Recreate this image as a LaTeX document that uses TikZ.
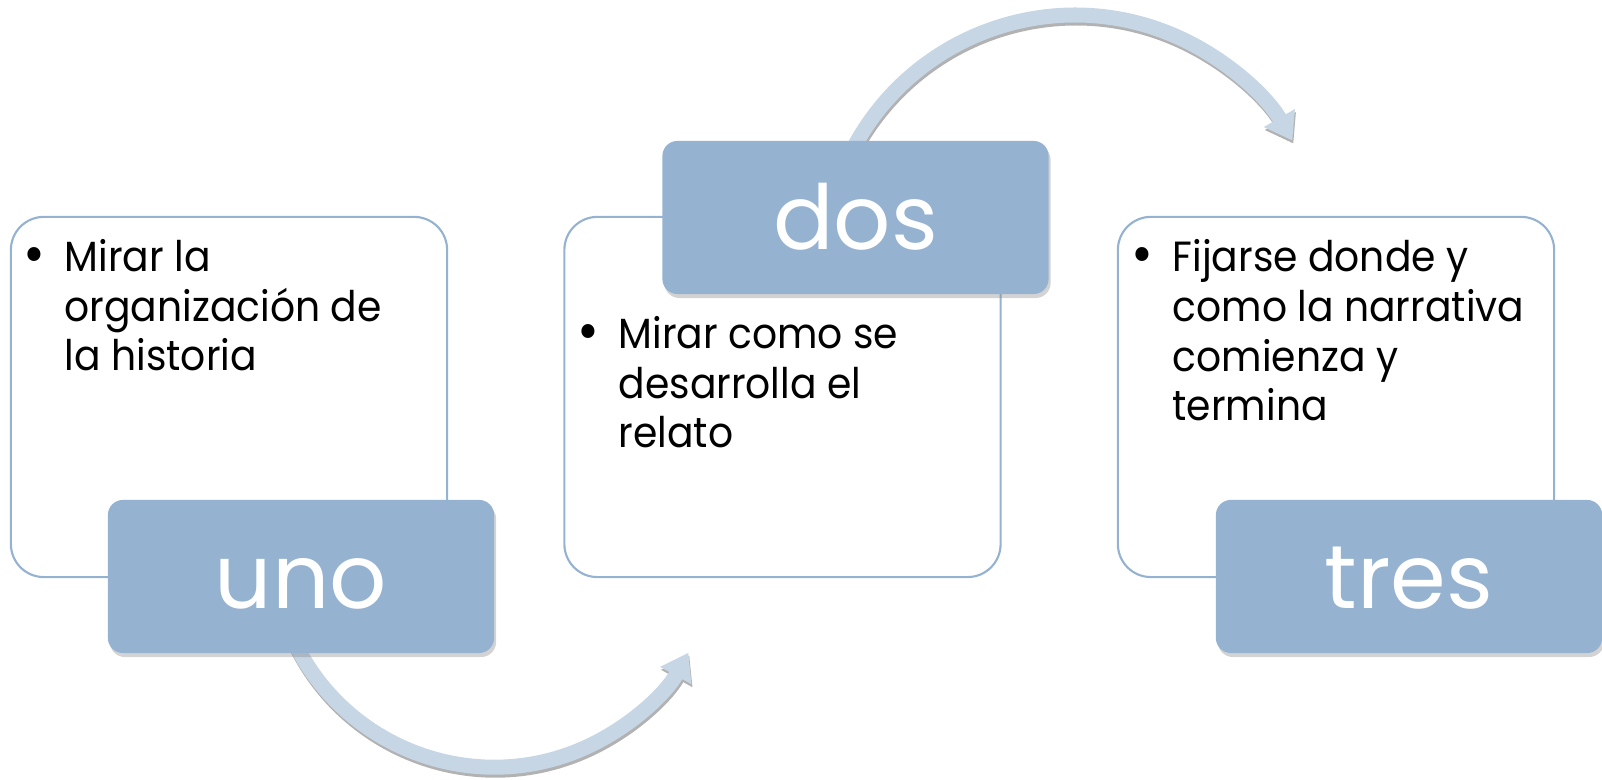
\documentclass[tikz,border=0pt]{standalone}
\usepackage{fontspec}
\setmainfont{Poppins}
\newfontfamily\bodyfont{Poppins}[FakeStretch=0.93]
\usetikzlibrary{arrows.meta,shadows,calc}
\definecolor{tabblue}{HTML}{95B3D1}
\definecolor{arrowblue}{HTML}{C6D6E5}
\definecolor{edge}{HTML}{95B3D1}
\tikzset{
  card/.style={draw=edge, line width=0.6pt, fill=white, rounded corners=0.33cm,
    minimum width=4.36cm, minimum height=3.6cm},
  tab/.style={fill=tabblue, rounded corners=0.15cm, minimum width=3.86cm, minimum height=1.53cm,
    text=white, font=\fontsize{25.5pt}{30pt}\selectfont, text height=0.8cm, text depth=0.16cm,
    drop shadow={shadow xshift=0.02cm, shadow yshift=-0.04cm, opacity=0.35}},
  flow/.style={draw=arrowblue, line width=0.15cm, -{Triangle[width=0.34cm, length=0.26cm]}},
  shade/.style={draw=black!30, line width=0.15cm, -{Triangle[width=0.34cm, length=0.26cm]}},
  txt/.style={anchor=base west, align=left, inner sep=0pt,
    font=\bodyfont\fontsize{12pt}{14.2pt}\selectfont}
}
\newcommand{\bul}{\llap{\raisebox{-0.6pt}{\scalebox{1.35}{\textbullet}}\hspace{0.19cm}}}

\begin{document}
\begin{tikzpicture}[x=0.01cm, y=0.01cm]
\useasboundingbox (0,0) rectangle (1602,780);

% white cards
\node[card] (card1) at (229,383) {};
\node[card] (card2) at (782.5,383) {};
\node[card] (card3) at (1336,383) {};

% bullet texts (placed by the baseline of their last line)
\node[txt] (t1) at (64,409) {\bul Mirar la\\organización de\\la historia};
\node[txt] (t2) at (618,332) {\bul Mirar como se\\desarrolla el\\relato};
\node[txt] (t3) at (1172,359) {\bul Fijarse donde y\\como la narrativa\\comienza y\\termina};

% curved arrows
\coordinate (s1) at (293,141);
\coordinate (s2) at (847.5,620);
\draw[shade] ($(s1)+(1,-3)$) arc[start angle=205, end angle=331, radius=222];
\draw[flow] (s1) arc[start angle=205, end angle=331, radius=222];
\draw[shade] ($(s2)+(1,-3)$) arc[start angle=155, end angle=30, radius=251];
\draw[flow] (s2) arc[start angle=155, end angle=30, radius=251];

% blue tabs
\node[tab] (tab1) at (301,203.5) {uno};
\node[tab] (tab2) at (855.5,562.5) {dos};
\node[tab] (tab3) at (1409,203.5) {tres};
\end{tikzpicture}
\end{document}
